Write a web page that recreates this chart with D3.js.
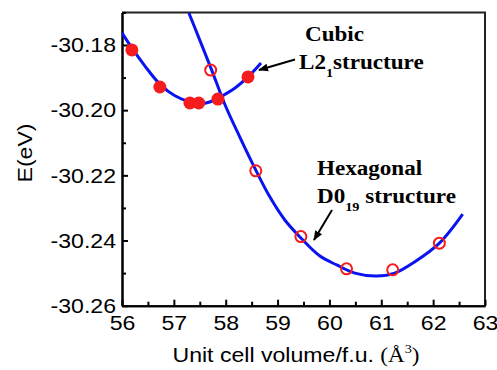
<!DOCTYPE html>
<html>
<head>
<meta charset="utf-8">
<script src="https://cdn.jsdelivr.net/npm/d3@7"></script>
<style>
  body { margin: 0; background: #fff; }
  .tick text { font-family: Arial, "Liberation Sans", sans-serif; font-size: 21px; fill: #000; }
  .axis path, .axis line { stroke: #000; stroke-width: 2; }
  .note { font-family: "Liberation Serif", "Times New Roman", serif; font-weight: bold; font-size: 21px; }
</style>
</head>
<body>
<div id="chart"></div>
<script>
// E vs volume for the cubic L2_1 and hexagonal D0_19 phases

// cubic L2_1: computed points (filled) and fitted curve
var cubicV = [56.19, 56.73, 57.31, 57.48, 57.85, 58.43];
var cubicE = [-30.1815, -30.1929, -30.1978, -30.1978, -30.1966, -30.1898];
var cubicFitV = [56.00, 56.19, 56.44, 56.73, 57.02, 57.31, 57.50, 57.69, 57.89, 58.18, 58.43, 58.68];
var cubicFitE = [-30.1763, -30.1809, -30.1864, -30.1920, -30.1956, -30.1975, -30.1981, -30.1975, -30.1960, -30.1932, -30.1898, -30.1855];

// hexagonal D0_19: computed points (open) and fitted curve
var hexV = [57.71, 58.58, 59.45, 60.33, 61.22, 62.12];
var hexE = [-30.1877, -30.2186, -30.2388, -30.2487, -30.2490, -30.2408];
var hexFitV = [57.29, 57.50, 57.73, 57.98, 58.27, 58.58, 58.85, 59.14, 59.43, 59.81, 60.14, 60.49, 60.91, 61.26, 61.64, 62.12, 62.57];
var hexFitE = [-30.1702, -30.1785, -30.1877, -30.1981, -30.2082, -30.2184, -30.2266, -30.2337, -30.2389, -30.2447, -30.2475, -30.2500, -30.2509, -30.2500, -30.2466, -30.2408, -30.2319];

var xTicks = [56, 57, 58, 59, 60, 61, 62, 63];
var xMinor = [56.5, 57.5, 58.5, 59.5, 60.5, 61.5, 62.5];
var yTicks = [-30.18, -30.20, -30.22, -30.24, -30.26];
var yMinor = [-30.17, -30.19, -30.21, -30.23, -30.25];

var width = 497, height = 370;
var svg = d3.select("#chart").append("svg")
  .attr("width", width).attr("height", height);

var x = d3.scaleLinear().domain([56, 63]).range([122, 485]);
var y = d3.scaleLinear().domain([-30.26, -30.17]).range([305.7, 12.4]);

// the original figure's lettering is a little wider than the fonts here
var SX = 1.1;
function stretch(sel) {
  sel.each(function() {
    var t = d3.select(this);
    var ax = +(t.attr("x") || 0), ay = +(t.attr("y") || 0);
    var pre = t.attr("transform") || "";
    t.attr("transform", pre + " translate(" + ax + "," + ay + ") scale(" + SX + ",1) translate(" + (-ax) + "," + (-ay) + ")");
  });
}

svg.append("defs").append("clipPath").attr("id", "clip")
  .append("rect").attr("x", 122).attr("y", 12.4)
  .attr("width", 363).attr("height", 293.3);

svg.append("defs").append("marker").attr("id", "arrow")
  .attr("viewBox", "0 0 10 10").attr("refX", 9).attr("refY", 5)
  .attr("markerWidth", 5).attr("markerHeight", 5)
  .attr("markerUnits", "strokeWidth").attr("orient", "auto")
  .append("path").attr("d", "M0,1 L10,5 L0,9 Z").attr("fill", "#000");

// frame top / right
svg.append("path")
  .attr("d", "M122," + y(-30.17) + " H" + x(63) + " V" + y(-30.26))
  .attr("fill", "none").attr("stroke", "#222").attr("stroke-width", 2);

// axes
svg.append("g").attr("class", "axis").attr("transform", "translate(0," + y(-30.26) + ")")
  .call(d3.axisBottom(x).tickValues(xTicks).tickSizeInner(-6).tickSizeOuter(0).tickPadding(9)
    .tickFormat(d3.format("d")));
svg.append("g").attr("class", "axis").attr("transform", "translate(0," + y(-30.26) + ")")
  .call(d3.axisBottom(x).tickValues(xMinor).tickSizeInner(-4).tickSizeOuter(0).tickFormat(""));
svg.append("g").attr("class", "axis").attr("transform", "translate(122,0)")
  .call(d3.axisLeft(y).tickValues(yTicks).tickSizeInner(-6).tickSizeOuter(0).tickPadding(6)
    .tickFormat(d3.format(".2f")));
svg.append("g").attr("class", "axis").attr("transform", "translate(122,0)")
  .call(d3.axisLeft(y).tickValues(yMinor).tickSizeInner(-4).tickSizeOuter(0).tickFormat(""));
svg.selectAll(".tick text").text(function(){ return this.textContent.replace("\u2212", "-"); });
stretch(svg.selectAll(".tick text"));

// fitted curves
var line = d3.line().x(function(d){ return x(d[0]); }).y(function(d){ return y(d[1]); })
  .curve(d3.curveCatmullRom);
var plot = svg.append("g").attr("clip-path", "url(#clip)");
plot.append("path").datum(d3.zip(cubicFitV, cubicFitE)).attr("d", line)
  .attr("fill", "none").attr("stroke", "#0a14f0").attr("stroke-width", 3);
plot.append("path").datum(d3.zip(hexFitV, hexFitE)).attr("d", line)
  .attr("fill", "none").attr("stroke", "#0a14f0").attr("stroke-width", 3);

// points
plot.selectAll("circle.cub").data(d3.zip(cubicV, cubicE)).enter().append("circle")
  .attr("class", "cub").attr("cx", function(d){ return x(d[0]); }).attr("cy", function(d){ return y(d[1]); })
  .attr("r", 6.5).attr("fill", "#f41c1c");
plot.selectAll("circle.hex").data(d3.zip(hexV, hexE)).enter().append("circle")
  .attr("class", "hex").attr("cx", function(d){ return x(d[0]); }).attr("cy", function(d){ return y(d[1]); })
  .attr("r", 5.5).attr("fill", "none").attr("stroke", "#f41c1c").attr("stroke-width", 2);

// annotations
var notes = [];
notes.push(svg.append("text").attr("class", "note").attr("x", 305).attr("y", 41).text("Cubic"));
var t1 = svg.append("text").attr("class", "note").attr("x", 299).attr("y", 69);
t1.append("tspan").text("L2");
t1.append("tspan").attr("dy", 8).attr("font-size", 13).text("1");
t1.append("tspan").attr("dy", -8).text("structure");
notes.push(t1);
svg.append("line").attr("x1", 295).attr("y1", 59.5).attr("x2", 259).attr("y2", 70)
  .attr("stroke", "#000").attr("stroke-width", 2).attr("marker-end", "url(#arrow)");

notes.push(svg.append("text").attr("class", "note").attr("x", 317).attr("y", 175).text("Hexagonal"));
var t2 = svg.append("text").attr("class", "note").attr("x", 317).attr("y", 203);
t2.append("tspan").text("D0");
t2.append("tspan").attr("dy", 8).attr("font-size", 13).text("19");
t2.append("tspan").attr("dy", -8).text(" structure");
notes.push(t2);
svg.append("line").attr("x1", 332).attr("y1", 210).attr("x2", 314).attr("y2", 240)
  .attr("stroke", "#000").attr("stroke-width", 2).attr("marker-end", "url(#arrow)");
notes.forEach(stretch);

// axis titles
var yt = svg.append("text").attr("transform", "translate(32,153) rotate(-90)")
  .attr("text-anchor", "middle").attr("font-family", "Arial, 'Liberation Sans', sans-serif")
  .attr("font-size", 21).text("E(eV)");
stretch(yt);
var xt = svg.append("text").attr("x", 296).attr("y", 362).attr("text-anchor", "middle")
  .attr("font-family", "Arial, 'Liberation Sans', sans-serif").attr("font-size", 21);
xt.append("tspan").text("Unit cell volume/f.u. ");
xt.append("tspan").attr("font-family", "'Liberation Serif', serif").text("(\u00C5");
xt.append("tspan").attr("font-family", "'Liberation Serif', serif").attr("font-size", 13).attr("dy", -9).text("3");
xt.append("tspan").attr("font-family", "'Liberation Serif', serif").attr("dy", 9).text(")");
stretch(xt);
</script>
</body>
</html>
